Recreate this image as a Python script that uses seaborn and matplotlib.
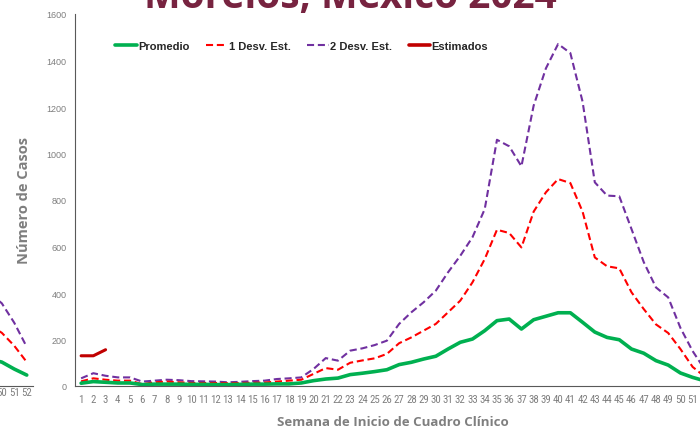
import matplotlib
matplotlib.use('Agg')
import matplotlib.pyplot as plt
from matplotlib import font_manager
from matplotlib.lines import Line2D
import seaborn as sns

# semanas epidemiologicas
weeks = list(range(1, 53))
promedio = [12, 19, 16, 13, 13, 6, 8, 8, 8, 7, 7, 6, 6, 7, 8, 8, 9, 9, 13, 23,
            30, 34, 49, 55, 62, 70, 92, 102, 116, 128, 159, 188, 202, 238, 281, 288,
            245, 285, 300, 315, 315, 274, 232, 209, 199, 159, 141, 109, 90, 56, 37, 22]
desv1 = [20, 33, 27, 23, 23, 8, 16, 19, 16, 13, 13, 13, 12, 13, 14, 15, 19, 23, 27, 52,
         77, 70, 100, 110, 119, 138, 184, 209, 238, 267, 317, 367, 446, 546, 672, 658,
         596, 750, 833, 890, 873, 750, 553, 515, 506, 403, 331, 265, 228, 159, 82, 40]
desv2 = [33, 55, 44, 37, 37, 19, 23, 27, 25, 21, 20, 19, 16, 18, 21, 23, 30, 33, 37, 73,
         120, 109, 152, 162, 176, 195, 267, 317, 360, 410, 489, 560, 640, 761, 1059, 1031,
         945, 1206, 1366, 1471, 1432, 1223, 876, 819, 816, 675, 533, 424, 381, 250, 150, 70]
est_weeks = [1, 2, 3]
estimados = [130, 130, 156]

# fragmento de la grafica anterior (borde izquierdo)
prev_weeks = [49, 50, 51, 52]
prev_promedio = [115, 103, 73, 47]
prev_desv1 = [262, 229, 173, 103]
prev_desv2 = [400, 356, 272, 168]
prev_labels = [50, 51, 52]

y_ticks = list(range(0, 1601, 200))
labels = ['Promedio', '1 Desv. Est.', '2 Desv. Est.', 'Estimados']
colors = {'Promedio': '#00B050', '1 Desv. Est.': '#FF0000',
          '2 Desv. Est.': '#7030A0', 'Estimados': '#C00000'}

sns.set_style('white')
plt.rcParams['font.family'] = ['Liberation Sans', 'DejaVu Sans']
grey = '#7F7F7F'
spine = '#595959'

# letra angosta para las semanas si existe alguna instalada
fonts = font_manager.fontManager.ttflist
names = {f.name for f in fonts}
tick_font = {'family': 'Liberation Sans', 'size': 6.5}
for cand in ['Roboto Condensed', 'Liberation Sans Narrow', 'Open Sans Condensed']:
    if cand in names:
        tick_font = {'family': cand, 'size': 7.8}
        break
else:
    if any(f.name == 'DejaVu Sans' and f.stretch == 'condensed' for f in fonts):
        tick_font = {'family': 'DejaVu Sans', 'stretch': 'condensed', 'size': 7}

W, H = 700, 435
fig = plt.figure(figsize=(7, 4.35), dpi=100)
fig.patch.set_facecolor('white')


def draw_lines(ax, x, p, d1, d2):
    sns.lineplot(x=x, y=d2, ax=ax, color=colors['2 Desv. Est.'], linewidth=1.5)
    ax.lines[-1].set_dashes((3.4, 1.8))
    sns.lineplot(x=x, y=d1, ax=ax, color=colors['1 Desv. Est.'], linewidth=1.5)
    ax.lines[-1].set_dashes((3.4, 1.8))
    sns.lineplot(x=x, y=p, ax=ax, color=colors['Promedio'], linewidth=2.6)


def style_axes(ax, ticks, pad):
    ax.set_xlim(0.5, 52.5)
    ax.set_ylim(0, 1600)
    for s in ['top', 'right']:
        ax.spines[s].set_visible(False)
    for s in ['left', 'bottom']:
        ax.spines[s].set_color(spine)
        ax.spines[s].set_linewidth(0.8)
    ax.set_xticks(ticks)
    ax.set_xticklabels([str(w) for w in ticks], color=grey, **{'font' + k: v for k, v in tick_font.items()})
    ax.set_xticks([w + 0.5 for w in [0] + weeks], minor=True)
    ax.tick_params(axis='x', which='major', length=0, pad=pad)
    ax.tick_params(axis='x', which='minor', length=3.5, width=0.8, color=spine, direction='out')
    ax.set_xlabel('')
    ax.set_ylabel('')


# grafica anterior, casi toda fuera del lienzo
prev = fig.add_axes([-617 / W, 48 / H, 650 / W, 372 / H])
draw_lines(prev, prev_weeks, prev_promedio, prev_desv1, prev_desv2)
style_axes(prev, prev_labels, 1)
prev.spines['left'].set_visible(False)
prev.set_yticks([])
prev.patch.set_alpha(0)

# grafica principal
ax = fig.add_axes([75 / W, 48 / H, 636 / W, 372 / H])
draw_lines(ax, weeks, promedio, desv1, desv2)
sns.lineplot(x=est_weeks, y=estimados, ax=ax, color=colors['Estimados'], linewidth=2.2)
style_axes(ax, weeks, 6)
ax.patch.set_alpha(0)
ax.set_yticks(y_ticks)
ax.tick_params(axis='y', length=3, width=0.8, color=spine, direction='out', pad=3,
               labelsize=6.5, labelcolor=grey)

ax.set_xlabel('Semana de Inicio de Cuadro Clínico', fontsize=9.5, fontweight='bold',
              color=grey, family=['Open Sans', 'DejaVu Sans'], labelpad=8)
ax.set_ylabel('Número de Casos', fontsize=10.5, fontweight='bold', color=grey,
              family=['Open Sans', 'DejaVu Sans'], labelpad=11)

handles = []
for lab in labels:
    if 'Desv' in lab:
        h = Line2D([], [], color=colors[lab], linewidth=1.5, dashes=(3.4, 1.8))
    else:
        h = Line2D([], [], color=colors[lab], linewidth=2.6)
    handles.append(h)
fig.legend(handles, labels, loc='center left', bbox_to_anchor=(115 / W, 1 - 47 / H),
           ncol=4, frameon=False, borderpad=0, borderaxespad=0, handlelength=1.95,
           handletextpad=0.1, columnspacing=1.5,
           prop={'family': ['Liberation Sans', 'DejaVu Sans'], 'weight': 'bold', 'size': 8})

fig.text(0.5, 1 - 8 / H, 'Morelos, México 2024', ha='center', va='baseline',
         fontsize=28, fontweight='bold', color='#772340',
         family=['Open Sans', 'DejaVu Sans'])

fig.savefig('out.png', dpi=100)
